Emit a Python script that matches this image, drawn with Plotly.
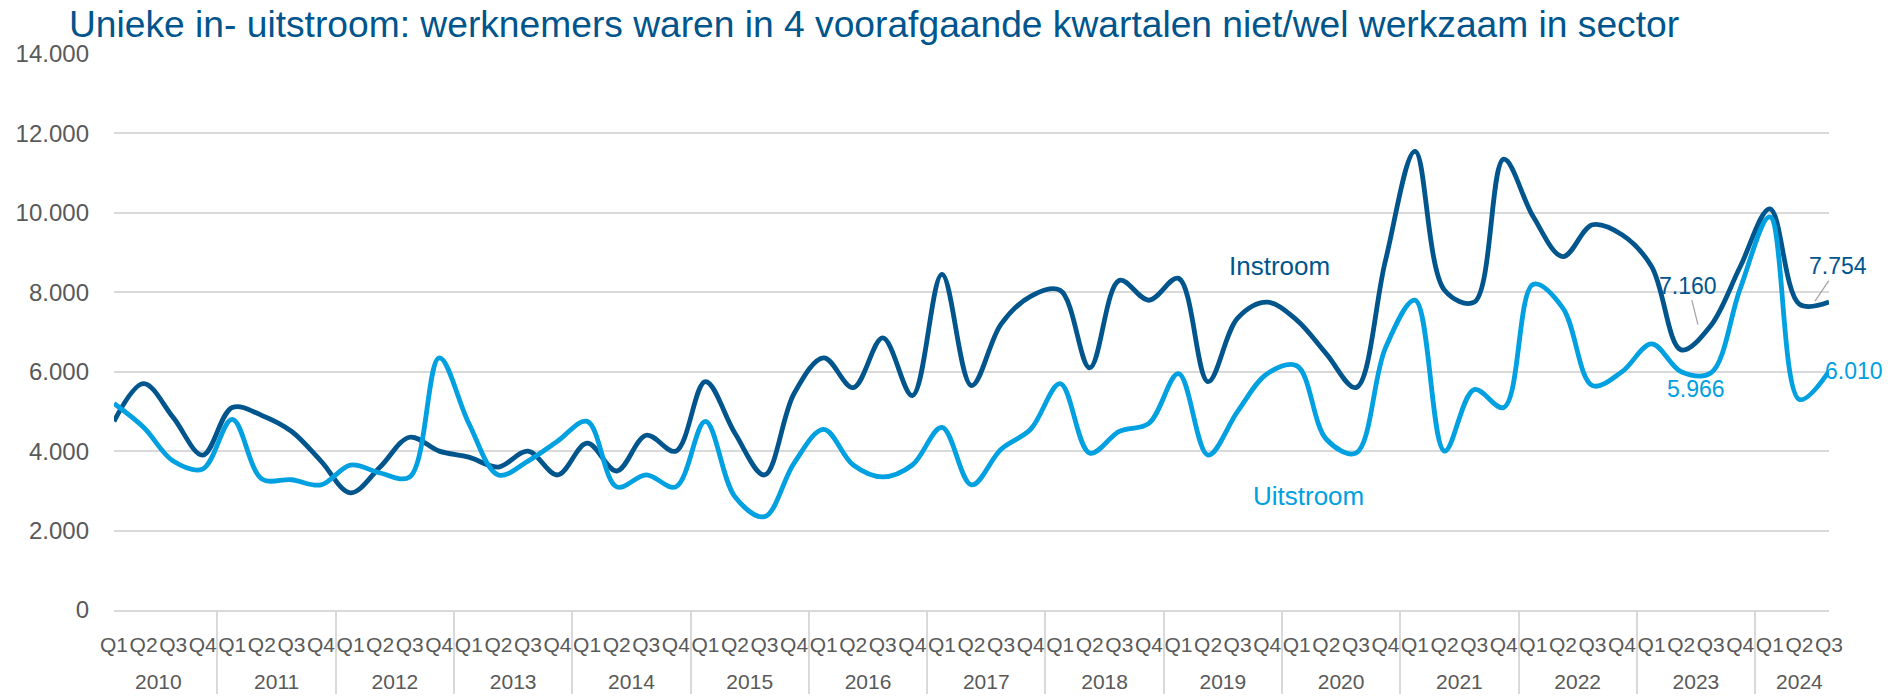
import plotly.graph_objects as go

# ---- data -------------------------------------------------------------
years = ["2010", "2011", "2012", "2013", "2014", "2015", "2016", "2017",
         "2018", "2019", "2020", "2021", "2022", "2023", "2024"]
quarters_per_year = [4, 4, 4, 4, 4, 4, 4, 4, 4, 4, 4, 4, 4, 4, 3]
quarter_names = ["Q1", "Q2", "Q3", "Q4"]

instroom = [4750, 5700, 4850, 3900,   # 2010
            5100, 4900, 4500, 3750,   # 2011
            2950, 3600, 4350, 4000,   # 2012
            3850, 3600, 4000, 3400,   # 2013
            4200, 3500, 4400, 4000,   # 2014
            5750, 4450, 3400, 5450,   # 2015
            6350, 5600, 6850, 5400,   # 2016
            8450, 5650, 7200, 7900,   # 2017
            8050, 6100, 8300, 7800,   # 2018
            8350, 5750, 7350, 7750,   # 2019
            7300, 6450, 5600, 8800,   # 2020
            11550, 8050, 7750, 11350, # 2021
            9900, 8900, 9700, 9450,   # 2022
            8650, 6550, 7160, 8650,   # 2023
            10100, 7700, 7754]        # 2024

uitstroom = [5200, 4600, 3750, 3550,  # 2010
             4800, 3300, 3280, 3150,  # 2011
             3650, 3450, 3350, 6350,  # 2012
             4700, 3400, 3750, 4250,  # 2013
             4750, 3100, 3400, 3100,  # 2014
             4750, 2850, 2350, 3700,  # 2015
             4550, 3650, 3350, 3650,  # 2016
             4600, 3150, 4050, 4550,  # 2017
             5700, 3950, 4500, 4700,  # 2018
             5950, 3900, 5000, 5950,  # 2019
             6150, 4300, 3950, 6600,  # 2020
             7800, 4000, 5550, 5100,  # 2021
             8200, 7600, 5650, 6000,  # 2022
             6700, 6000, 5966, 8100,  # 2023
             9900, 5300, 6010]        # 2024

title_text = ("Unieke in- uitstroom: werknemers waren in 4 voorafgaande "
              "kwartalen niet/wel werkzaam in sector")

# ---- derived axis categories -----------------------------------------
year_labels = []
quarter_labels = []
for y, n in zip(years, quarters_per_year):
    for q in quarter_names[:n]:
        # leading line break drops the year row below the quarter row
        year_labels.append("<br>" + y)
        quarter_labels.append(q)
N = len(quarter_labels)

DARK = "#00558C"
LIGHT = "#00A0E1"
GRID = "#D9D9D9"
TICK = "#595959"
FONT = "Liberation Sans, Arial, sans-serif"


def xp(i):
    """paper x of category index i on the multicategory axis"""
    return (i + 0.5) / N


fig = go.Figure()
fig.add_trace(go.Scatter(x=[year_labels, quarter_labels], y=instroom,
                         mode="lines", name="Instroom",
                         line=dict(color=DARK, width=4.8, shape="spline",
                                   smoothing=1.0)))
fig.add_trace(go.Scatter(x=[year_labels, quarter_labels], y=uitstroom,
                         mode="lines", name="Uitstroom",
                         line=dict(color=LIGHT, width=4.8, shape="spline",
                                   smoothing=1.0)))

i_q3_23 = N - 5
i_last = N - 1

annotations = [
    dict(text="Instroom", xref="paper", yref="y", x=xp(39.6), y=8665,
         xanchor="center", yanchor="middle",
         showarrow=False, font=dict(size=26, color=DARK, family=FONT)),
    dict(text="Uitstroom", xref="paper", yref="y", x=xp(40.6), y=2866,
         xanchor="center", yanchor="middle",
         showarrow=False, font=dict(size=26, color=LIGHT, family=FONT)),
    dict(text="7.160", xref="paper", yref="y", x=xp(i_q3_23),
         y=instroom[i_q3_23], showarrow=True, arrowhead=0, arrowwidth=1.3,
         arrowcolor="#A6A6A6", ax=-10, ay=-40, standoff=1,
         xanchor="center", yanchor="middle",
         font=dict(size=23, color=DARK, family=FONT)),
    dict(text="7.754", xref="paper", yref="y", x=xp(i_last),
         y=instroom[i_last], showarrow=True, arrowhead=0, arrowwidth=1.3,
         arrowcolor="#A6A6A6", ax=24, ay=-36, standoff=1,
         xanchor="center", yanchor="middle",
         font=dict(size=23, color=DARK, family=FONT)),
    dict(text="5.966", xref="paper", yref="y", x=xp(i_q3_23),
         y=uitstroom[i_q3_23], showarrow=False, xshift=-2, yshift=-16,
         xanchor="center", yanchor="middle",
         font=dict(size=23, color=LIGHT, family=FONT)),
    dict(text="6.010", xref="paper", yref="y", x=xp(i_last),
         y=uitstroom[i_last], showarrow=False, xanchor="left",
         yanchor="middle", xshift=9,
         font=dict(size=23, color=LIGHT, family=FONT)),
]

fig.update_layout(
    width=1893, height=700,
    margin=dict(l=114, r=64, t=54, b=90, autoexpand=False),
    paper_bgcolor="white", plot_bgcolor="white",
    showlegend=False,
    separators=",.",
    font=dict(family=FONT, color=TICK),
    title=dict(text=title_text, x=69 / 1893, xanchor="left",
               xref="container", yref="container", y=1 - 24 / 700,
               yanchor="middle", automargin=False,
               font=dict(size=37.2, color=DARK, family=FONT)),
    annotations=annotations,
)
fig.update_yaxes(range=[0, 14000], dtick=2000, tickformat=",d",
                 showgrid=True, gridcolor=GRID, gridwidth=1.5,
                 zeroline=False, showline=False, ticks="",
                 ticklabelstandoff=24, automargin=False,
                 tickfont=dict(size=24, color=TICK, family=FONT))
fig.update_xaxes(type="multicategory", showgrid=False, showline=True,
                 linecolor=GRID, linewidth=1.5,
                 ticks="outside", ticklen=5, tickcolor="rgba(0,0,0,0)",
                 tickangle=0, ticklabelstandoff=15, automargin=False,
                 showdividers=True, dividercolor=GRID, dividerwidth=1.5,
                 tickfont=dict(size=21, color=TICK, family=FONT))

fig.write_html("out.html",
               config={"displayModeBar": False},
               post_script="document.body.style.margin='0';"
                           "document.body.style.overflow='hidden';")
